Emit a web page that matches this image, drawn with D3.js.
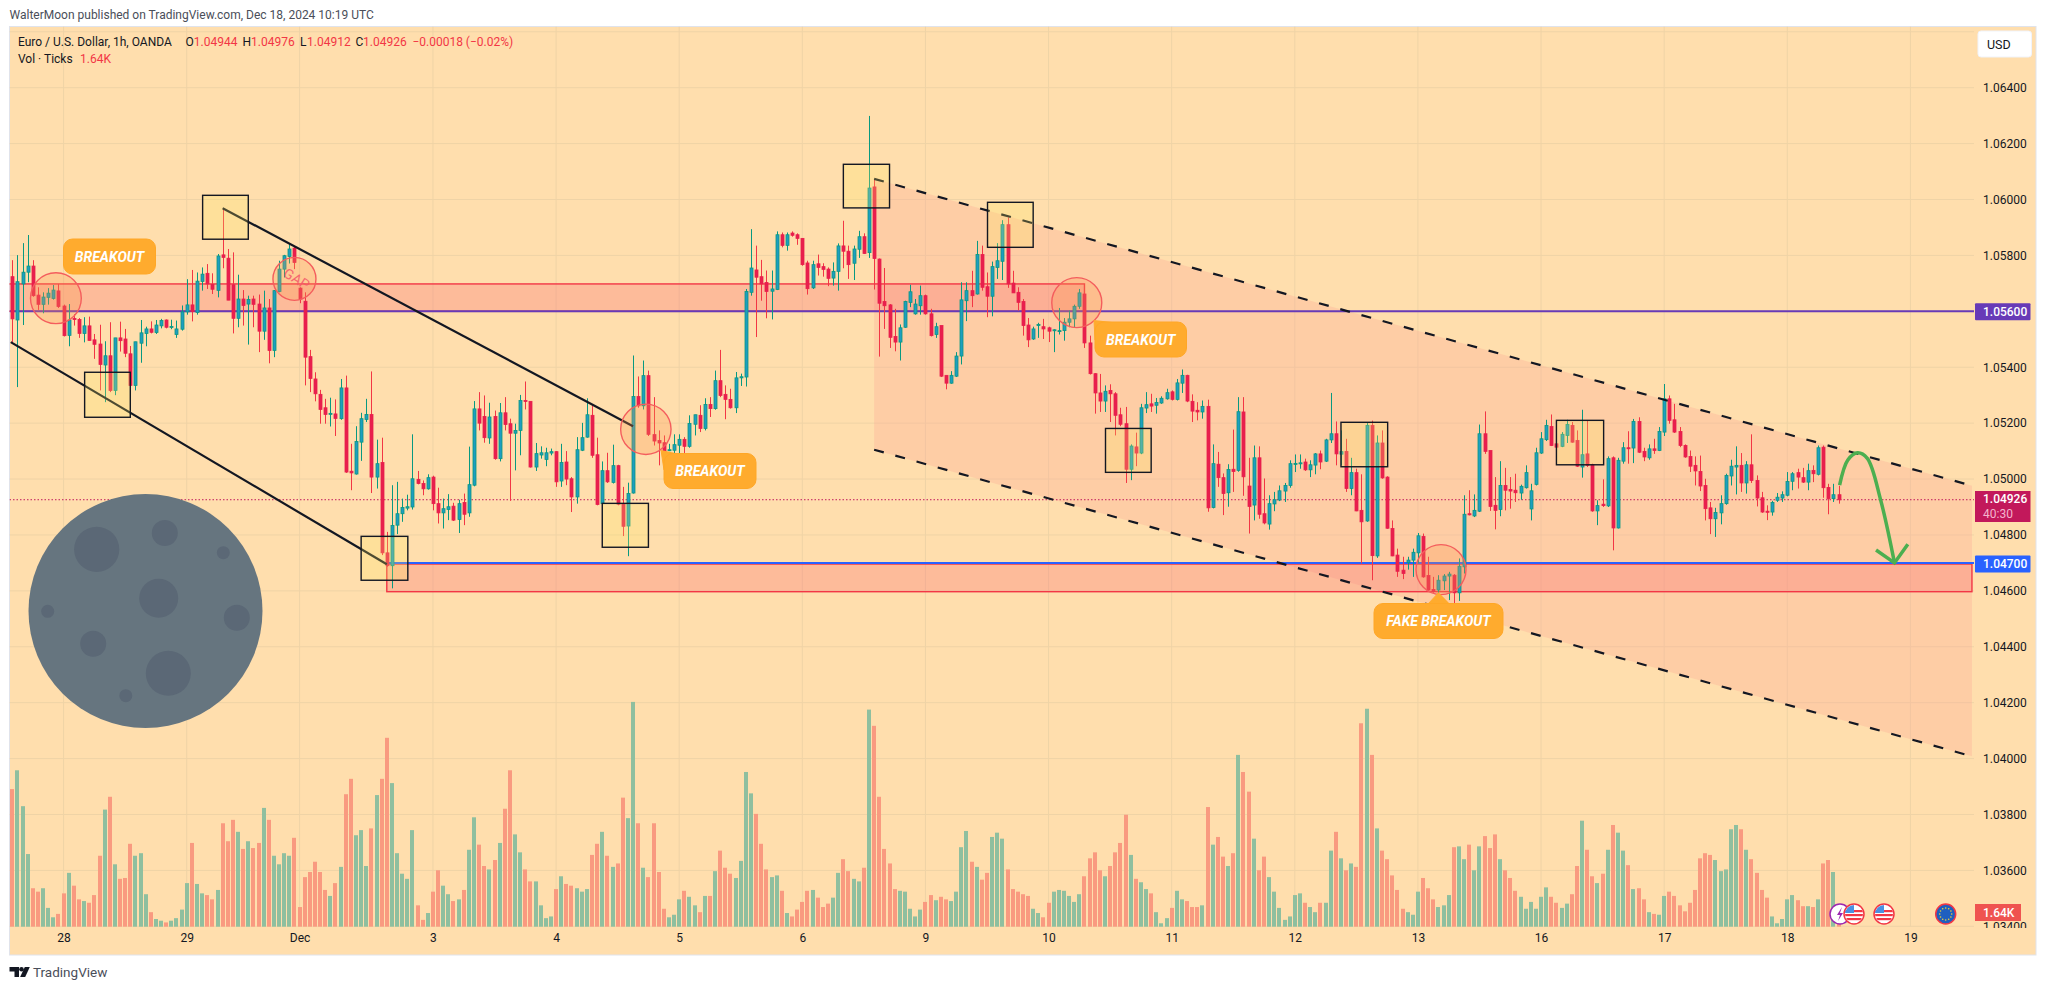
<!DOCTYPE html>
<html>
<head>
<meta charset="utf-8">
<title>EUR/USD 1h</title>
<script src="https://cdn.jsdelivr.net/npm/d3@7"></script>
<style>
  html, body { margin: 0; padding: 0; background: #fff; }
  svg { display: block; }
  text { font-family: Roboto, "Liberation Sans", sans-serif; }
</style>
</head>
<body>
<div id="chart"></div>
<script>
// Candles, in points above 1.00000 (5600 = 1.05600)
const opens = [
  5724,5569,5698,5740,5762,5658,5625,5650,5646,5673,
  5619,5514,5574,5571,5521,5548,5498,5483,5408,5441,
  5317,5505,5501,5448,5335,5486,5521,5537,5524,5548,
  5569,5544,5517,5536,5598,5623,5596,5707,5736,5696,
  5675,5802,5790,5695,5575,5644,5626,5644,5626,5529,
  5612,5460,5671,5751,5796,5826,5683,5636,5438,5358,
  5303,5255,5232,5233,5216,5326,5028,5018,5132,5213,
  5231,5007,5059,4736,4690,4835,4876,4896,4900,4999,
  4984,4965,5007,4912,4879,4891,4903,4855,4916,4879,
  4978,5251,5224,5147,5224,5073,5237,5198,5164,5174,
  5281,5278,5043,5086,5070,5093,5098,4993,5061,5001,
  4936,5103,5150,5228,5087,4912,5030,4988,5048,4912,
  4832,4950,5295,5262,5370,5159,5138,5130,5103,5103,
  5121,5142,5117,5196,5228,5181,5267,5252,5352,5303,
  5285,5255,5362,5365,5668,5748,5724,5703,5672,5678,
  5874,5836,5880,5874,5861,5773,5684,5770,5760,5751,
  5719,5743,5834,5815,5772,5822,5867,5810,6045,5787,
  5635,5623,5510,5490,5543,5632,5591,5620,5656,5591,
  5517,5549,5371,5343,5368,5440,5638,5674,5662,5803,
  5688,5654,5757,5779,5910,5701,5668,5635,5551,5501,
  5549,5545,5541,5531,5529,5531,5561,5573,5618,5662,
  5487,5377,5308,5279,5317,5305,5230,5198,5035,5115,
  5093,5254,5269,5264,5272,5287,5312,5285,5343,5371,
  5278,5246,5240,5260,4898,5053,5005,4951,5035,5031,
  5240,4975,4907,5076,4876,4839,4911,4925,4957,4977,
  5053,5056,5061,5033,5050,5090,5064,5140,5162,5089,
  5099,4966,5023,4888,4850,5192,4725,5129,5007,4823,
  4728,4674,4701,4710,4736,4795,4655,4605,4603,4636,
  4653,4656,4593,4686,4876,4868,4885,5162,5102,4906,
  4891,4977,4963,4960,4950,4969,4893,4981,5093,5141,
  5188,5126,5117,5156,5192,5138,5043,5090,5051,4886,
  4910,4904,5076,4825,5064,5112,5111,5206,5099,5076,
  5108,5102,5168,5287,5212,5170,5120,5081,5049,5027,
  4977,4897,4858,4879,4912,5011,5043,5049,4986,5051,
  4995,4933,4885,4882,4924,4932,4942,4992,5023,5005,
  4989,5031,5017,5114,4970,4930,4944
];
const highs = [
  5783,5801,5844,5873,5783,5686,5668,5683,5694,5698,
  5624,5626,5590,5576,5579,5581,5519,5552,5493,5561,
  5505,5563,5537,5476,5491,5569,5545,5564,5569,5573,
  5571,5570,5567,5621,5715,5748,5739,5757,5769,5736,
  5805,5969,5823,5811,5731,5676,5656,5656,5660,5674,
  5644,5676,5781,5802,5840,5834,5686,5668,5462,5382,
  5319,5287,5291,5285,5358,5370,5126,5189,5237,5287,
  5385,5141,5148,4811,4978,4990,4930,4944,5160,5029,
  4995,5017,5012,4969,4930,4946,4915,4926,4948,5116,
  5279,5311,5299,5273,5245,5272,5293,5216,5198,5301,
  5349,5278,5129,5117,5112,5109,5100,5126,5100,5007,
  5150,5201,5289,5263,5148,5063,5094,5123,5051,4972,
  4987,5442,5367,5424,5388,5293,5174,5156,5126,5160,
  5160,5150,5228,5230,5264,5289,5293,5388,5462,5335,
  5323,5383,5377,5680,5894,5835,5784,5746,5746,5886,
  5882,5882,5886,5879,5862,5781,5781,5803,5772,5757,
  5775,5843,5924,5835,5835,5888,5879,6299,6071,5789,
  5755,5626,5609,5553,5638,5695,5644,5692,5660,5609,
  5559,5549,5371,5386,5454,5704,5704,5745,5852,5835,
  5739,5778,5844,5926,5936,5745,5686,5644,5576,5545,
  5559,5573,5545,5536,5612,5576,5603,5624,5680,5668,
  5513,5379,5376,5335,5339,5311,5255,5258,5124,5166,
  5269,5311,5305,5290,5296,5323,5317,5358,5392,5373,
  5303,5275,5281,5284,5124,5097,5020,5053,5177,5293,
  5293,5076,5120,5117,5002,4942,4954,4977,4986,5067,
  5088,5088,5073,5067,5093,5102,5144,5308,5206,5174,
  5144,5076,5037,5017,5204,5209,5156,5174,5010,4852,
  4751,4722,4722,4751,4807,4805,4722,4650,4656,4660,
  4668,4660,4716,4942,4960,4945,5195,5242,5102,5007,
  5064,5040,5007,5019,4980,5049,4983,5112,5168,5212,
  5231,5156,5168,5212,5204,5174,5248,5209,5055,4924,
  4999,5081,5081,5076,5132,5171,5215,5221,5112,5124,
  5144,5186,5340,5299,5269,5186,5124,5102,5081,5084,
  5001,4918,4897,4942,5019,5069,5117,5093,5064,5160,
  5013,4954,4906,4922,4950,4956,5025,5025,5037,5040,
  5055,5049,5120,5120,4983,4983,4976
];
const lows = [
  5487,5329,5551,5704,5652,5605,5593,5624,5642,5612,
  5510,5475,5549,5505,5489,5495,5430,5317,5275,5311,
  5300,5456,5436,5305,5317,5416,5475,5521,5519,5539,
  5539,5536,5505,5531,5588,5564,5588,5674,5680,5662,
  5650,5754,5640,5521,5543,5549,5481,5543,5454,5498,
  5414,5436,5668,5721,5771,5751,5629,5335,5311,5278,
  5198,5198,5188,5154,5212,5022,4960,5016,5065,5204,
  4950,4966,4728,4686,4609,4803,4847,4888,4891,4981,
  4942,4962,4888,4841,4823,4853,4850,4807,4835,4865,
  4974,5174,5130,5126,5069,5063,5174,4922,5031,5085,
  5249,5041,5029,5073,5046,5085,4972,4972,4978,4882,
  4912,5100,5148,5076,4906,4823,4986,4984,4906,4796,
  4724,4948,5255,5249,5154,5120,5049,5076,5100,5088,
  5081,5091,5112,5156,5168,5174,5222,5248,5293,5214,
  5252,5236,5333,5331,5656,5508,5638,5575,5571,5676,
  5829,5817,5867,5838,5763,5660,5680,5728,5724,5690,
  5692,5674,5754,5716,5712,5791,5805,5791,5678,5438,
  5537,5469,5457,5424,5541,5615,5588,5588,5588,5510,
  5505,5365,5321,5341,5365,5410,5565,5615,5660,5674,
  5579,5582,5716,5712,5684,5666,5603,5513,5472,5498,
  5505,5501,5490,5454,5517,5495,5543,5541,5609,5469,
  5374,5234,5240,5240,5204,5156,5189,4986,4996,5046,
  5089,5236,5240,5234,5269,5284,5281,5281,5308,5275,
  5204,5210,5216,4883,4895,4972,4871,4901,4954,5026,
  4940,4805,4852,4858,4838,4819,4885,4921,4918,4969,
  5025,5037,5029,5007,5017,5035,5061,5129,5049,5049,
  4954,4942,4885,4698,4847,4638,4718,5001,4822,4724,
  4650,4642,4676,4650,4698,4647,4600,4593,4561,4603,
  4567,4529,4564,4662,4870,4864,4882,5090,4886,4820,
  4867,4888,4894,4918,4926,4966,4852,4977,5090,5136,
  5118,5096,5114,5129,5130,5043,5005,5043,4883,4835,
  4900,4900,4745,4823,5055,5055,5057,5093,5064,5069,
  5090,5100,5154,5198,5165,5114,5076,5025,4977,4957,
  4852,4803,4793,4838,4908,4977,4945,4954,4948,4986,
  4902,4879,4853,4869,4918,4918,4938,4960,4966,4986,
  4960,4989,5013,4933,4874,4918,4912
];
const closes = [
  5573,5706,5740,5762,5656,5625,5651,5665,5676,5617,
  5513,5569,5571,5521,5548,5496,5482,5410,5441,5317,
  5505,5495,5450,5335,5491,5523,5537,5525,5551,5567,
  5543,5546,5537,5598,5623,5599,5708,5733,5698,5679,
  5798,5793,5640,5575,5644,5621,5642,5625,5529,5612,
  5460,5674,5751,5799,5823,5775,5644,5436,5360,5305,
  5249,5231,5235,5217,5326,5025,5022,5134,5216,5231,
  5007,5055,4736,4690,4834,4876,4898,4901,5001,4984,
  4965,5005,4912,4879,4894,4901,4853,4912,4874,4980,
  5251,5200,5148,5222,5073,5237,5195,5164,5174,5281,
  5279,5043,5091,5094,5094,5098,4990,5059,5000,4936,
  5105,5148,5230,5085,4909,5030,4990,5048,4910,4831,
  4948,5295,5262,5370,5160,5136,5129,5097,5105,5123,
  5142,5117,5199,5230,5181,5267,5252,5352,5299,5285,
  5255,5362,5366,5671,5755,5722,5698,5671,5680,5874,
  5836,5874,5872,5861,5767,5681,5767,5757,5750,5718,
  5743,5834,5815,5767,5823,5867,5807,6041,5789,5629,
  5620,5507,5490,5541,5635,5670,5626,5656,5591,5513,
  5545,5368,5343,5371,5440,5641,5674,5656,5803,5686,
  5654,5760,5781,5910,5698,5666,5632,5549,5498,5537,
  5553,5537,5529,5534,5531,5561,5573,5618,5666,5487,
  5377,5308,5279,5314,5305,5228,5196,5035,5118,5093,
  5255,5266,5261,5274,5289,5309,5285,5344,5371,5279,
  5243,5240,5260,4897,5055,5005,4948,5034,5027,5241,
  5008,4902,5076,4874,4843,4912,4926,4958,4977,5055,
  5056,5058,5033,5051,5090,5061,5140,5162,5090,5098,
  4966,5023,4886,4847,5192,4726,5129,5004,4824,4725,
  4670,4662,4710,4738,4797,4650,4603,4598,4638,4653,
  4660,4593,4688,4874,4872,4888,5162,5099,4902,4888,
  4977,4960,4957,4951,4974,5023,4958,5094,5144,5192,
  5120,5114,5160,5195,5132,5046,5087,5049,4886,4905,
  4905,5073,4825,5067,5112,5110,5206,5096,5079,5108,
  5102,5170,5287,5210,5168,5120,5079,5046,5029,4975,
  4894,4858,4880,4912,5013,5046,5049,4986,5051,4995,
  4932,4882,4881,4916,4935,4944,4991,5019,5007,4989,
  5030,5019,5112,4969,4930,4944,4926
];
// Volume in thousand ticks
const volumes = [
  16.1,18.3,14.1,8.5,4.5,4.1,4.5,2.2,1.1,1.5,
  3.9,6.3,4.8,3.2,3.0,2.8,3.7,8.3,13.7,15.2,
  7.3,5.6,5.7,9.7,8.3,8.6,3.8,1.7,0.9,0.7,
  0.5,0.7,1.0,2.0,5.1,9.8,5.0,3.9,3.7,3.2,
  4.3,12.1,10.0,12.5,11.1,9.1,10.0,9.2,9.8,13.9,
  12.5,8.3,7.3,8.6,8.3,10.4,2.3,5.8,6.4,7.6,
  6.4,4.3,3.6,5.1,7.0,15.5,17.3,10.7,11.3,7.1,
  11.5,15.4,17.3,22.1,16.8,8.6,6.2,5.6,11.3,2.5,
  0.8,1.6,4.1,6.6,4.8,3.8,3.0,3.2,4.3,9.0,
  12.8,9.6,7.1,6.7,7.8,9.8,13.8,18.3,10.8,8.7,
  6.7,5.3,5.3,2.5,1.0,1.2,4.4,5.9,5.0,4.8,
  4.5,4.1,4.4,8.4,9.7,11.1,8.3,7.0,7.4,15.1,
  12.7,26.3,12.1,6.9,5.8,12.1,6.4,2.1,1.1,1.4,
  3.2,4.2,3.5,2.5,1.7,3.6,3.6,6.5,8.9,6.9,
  6.2,5.7,7.7,18.1,15.6,13.2,9.7,6.7,5.8,6.0,
  4.2,1.6,1.2,2.0,2.9,4.2,4.3,3.4,2.3,2.7,
  3.4,6.3,7.9,6.5,5.6,5.3,6.9,25.4,23.5,15.2,
  9.1,7.4,4.4,4.2,4.1,2.1,1.2,2.0,2.9,3.7,
  3.1,3.5,3.2,3.0,4.1,9.3,11.2,7.6,7.0,5.5,
  6.3,10.5,11.0,10.3,6.7,4.4,4.1,3.8,3.6,2.1,
  1.6,1.1,2.8,4.1,4.3,4.2,3.6,2.9,3.8,5.9,
  8.0,8.7,6.6,5.9,7.1,8.7,9.8,13.1,8.4,5.6,
  5.2,4.4,3.9,1.7,0.4,1.0,2.2,4.2,3.2,3.0,
  2.3,2.3,2.5,14.0,9.6,10.5,8.2,7.1,8.6,20.1,
  18.1,15.8,10.3,6.6,8.2,5.8,4.1,2.2,0.8,1.2,
  3.7,3.9,2.8,2.3,1.7,2.8,2.8,8.9,11.1,8.0,
  6.6,7.4,7.0,23.8,25.5,20.1,11.5,8.9,7.9,6.0,
  4.3,2.1,1.7,1.4,4.1,5.7,4.5,3.2,2.3,2.5,
  3.7,9.3,9.4,7.9,9.6,6.6,9.4,10.6,9.2,10.8,
  7.9,6.6,5.7,4.2,3.5,2.1,2.9,2.1,3.5,4.6,
  3.5,2.8,2.2,2.7,3.8,7.1,12.4,9.0,5.9,5.1,
  6.2,9.0,11.9,11.0,8.9,7.2,4.4,4.5,3.2,1.7,
  1.5,1.4,3.6,4.1,3.6,2.5,1.8,2.8,4.3,8.0,
  8.6,8.4,7.8,6.5,6.7,11.4,11.9,11.4,9.0,7.9,
  6.3,4.3,3.4,1.2,0.4,0.9,3.2,3.7,3.1,2.4,
  2.4,2.3,3.2,7.4,7.8,6.4,1.64
];
// Axis labels
const priceTicks = [1.034,1.036,1.038,1.04,1.042,1.044,1.046,1.048,1.05,1.052,1.054,1.058,1.06,1.062,1.064];
const gridPrices = [1.034,1.036,1.038,1.04,1.042,1.044,1.046,1.048,1.05,1.052,1.054,1.056,1.058,1.06,1.062,1.064,1.066];
const dayLabels = ["28","29","Dec","3","4","5","6","9","10","11","12","13","16","17","18","19"];
const dayBars = [10,34,56,82,106,130,154,178,202,226,250,274,298,322,346,370];

// Levels and drawings, as bar index + price
const levels = { resistance: 1.056, support: 1.047, last: 1.04926 };
const upperZone = { from: -1, to: 209.0, top: 1.05698, bottom: 1.056 };
const lowerZone = { from: 73, to: 382, top: 1.04696, bottom: 1.04597 };
const channelTop = [[168, 1.06074], [382, 1.04976]];
const channelBottom = [[168, 1.05105], [382, 1.04008]];
const solidTop = [[41, 1.05969], [121, 1.05189]];
const solidBottom = [[-0.3, 1.0549], [73, 1.04695]];
const boxes = [
  [37.1, 46.0, 1.06015, 1.05858], [14.1, 23.0, 1.05382, 1.05221], [68.0, 77.1, 1.04795, 1.04638],
  [115.0, 124.0, 1.04913, 1.04756], [162.0, 171.0, 1.06126, 1.0597], [190.1, 199.0, 1.0599, 1.05829],
  [213.1, 222.0, 1.05181, 1.05024], [259.0, 268.1, 1.05203, 1.05044], [301.0, 310.2, 1.0521, 1.05051]
];
const circles = [[8.5, 1.05647, 25.4], [55.0, 1.05716, 21.5], [123.5, 1.05178, 25.2], [207.5, 1.05631, 25], [278.5, 1.04676, 25]];
const arrowPath = [[356.2, 1.04978], [357.8, 1.05068], [359.7, 1.05094], [361.6, 1.05074], [364.2, 1.04925], [366.9, 1.047]];
const arrowHead = [[363.3, 1.04746], [366.9, 1.047], [369.5, 1.04767]];

const width = 2046, height = 990;
const pane = { left: 9.5, right: 2036, top: 26.5, bottom: 955, plotRight: 1974, volBase: 926.7 };
const colors = {
  bg: "#ffdead", grid: "#efd3a6", up: "#089981", upFill: "#1f9cc0", down: "#f23645", downFill: "#e81f4d",
  volUp: "#8fbf9f", volDown: "#f99a80", line: "#131722", purple: "#673ab7", blue: "#2962ff",
  lastLabel: "#c2185b", orange: "#ffab2e"
};

const toPrice = p => 1 + p / 100000;

// Scales
const x = d3.scaleLinear().domain([0, 1]).range([12.3, 17.43]);
const y = d3.scaleLinear().domain([1.034, 1.064]).range([926.3, 87.7]);
const v = d3.scaleLinear().domain([0, 26.3]).range([pane.volBase, 701.9]);

const bars = closes.map((c, i) => ({ i, o: toPrice(opens[i]), h: toPrice(highs[i]), l: toPrice(lows[i]), c: toPrice(c), vol: volumes[i] }));

const svg = d3.select("#chart").append("svg").attr("width", width).attr("height", height);
const defs = svg.append("defs");
defs.append("clipPath").attr("id", "plot").append("rect")
  .attr("x", pane.left).attr("y", pane.top).attr("width", pane.plotRight - pane.left).attr("height", pane.bottom - pane.top);
defs.append("clipPath").attr("id", "priceClip").append("rect")
  .attr("x", pane.plotRight).attr("y", pane.top).attr("width", 70).attr("height", 928 - pane.top);

// Header
svg.append("text").attr("x", 9.5).attr("y", 19).attr("font-size", 12).attr("fill", "#4a4e59")
  .text("WalterMoon published on TradingView.com, Dec 18, 2024 10:19 UTC");

// Pane
svg.append("rect").attr("x", pane.left).attr("y", pane.top).attr("width", pane.right - pane.left).attr("height", pane.bottom - pane.top)
  .attr("fill", colors.bg).attr("stroke", "#e0e3eb");

const plot = svg.append("g").attr("clip-path", "url(#plot)");

// Grid
plot.selectAll(".hgrid").data(gridPrices).enter().append("line")
  .attr("x1", pane.left).attr("x2", pane.plotRight).attr("y1", d => y(d)).attr("y2", d => y(d)).attr("stroke", colors.grid);
plot.selectAll(".vgrid").data(dayBars).enter().append("line")
  .attr("x1", d => x(d)).attr("x2", d => x(d)).attr("y1", pane.top).attr("y2", pane.volBase).attr("stroke", colors.grid);

// Channel area and zones sit under the candles
const zoneRect = z => plot.append("rect")
  .attr("x", x(z.from)).attr("width", x(z.to) - x(z.from))
  .attr("y", y(z.top)).attr("height", y(z.bottom) - y(z.top))
  .attr("fill", "rgba(248,105,113,0.3)").attr("stroke", colors.down).attr("stroke-width", 1.4);

plot.append("path")
  .attr("d", d3.line()([channelTop[0], channelTop[1], channelBottom[1], channelBottom[0]].map(p => [x(p[0]), y(p[1])])) + "Z")
  .attr("fill", "rgba(252,165,150,0.3)");

// Volume
plot.selectAll(".vol").data(bars).enter().append("rect")
  .attr("x", d => Math.round(x(d.i)) - 2).attr("width", 4)
  .attr("y", d => v(d.vol)).attr("height", d => pane.volBase - v(d.vol))
  .attr("fill", d => d.c >= d.o ? colors.volUp : colors.volDown);

zoneRect(upperZone);
zoneRect(lowerZone);

// Levels
plot.append("line").attr("x1", pane.left).attr("x2", pane.plotRight).attr("y1", y(levels.resistance)).attr("y2", y(levels.resistance))
  .attr("stroke", colors.purple).attr("stroke-width", 2);
plot.append("line").attr("x1", x(lowerZone.from)).attr("x2", pane.plotRight).attr("y1", y(levels.support)).attr("y2", y(levels.support))
  .attr("stroke", colors.blue).attr("stroke-width", 2);
plot.append("line").attr("x1", pane.left).attr("x2", pane.plotRight).attr("y1", y(levels.last)).attr("y2", y(levels.last))
  .attr("stroke", colors.lastLabel).attr("stroke-dasharray", "1.5 2");

// Candles
const candle = plot.selectAll(".candle").data(bars).enter().append("g");
candle.append("line")
  .attr("x1", d => Math.round(x(d.i)) + 0.5).attr("x2", d => Math.round(x(d.i)) + 0.5)
  .attr("y1", d => y(d.h)).attr("y2", d => y(d.l))
  .attr("stroke", d => d.c >= d.o ? colors.up : colors.down);
candle.append("rect")
  .attr("x", d => Math.round(x(d.i)) - 1).attr("width", 3)
  .attr("y", d => y(Math.max(d.o, d.c)))
  .attr("height", d => Math.max(1, Math.abs(y(d.o) - y(d.c))))
  .attr("fill", d => d.c >= d.o ? colors.upFill : colors.downFill)
  .attr("stroke", d => d.c >= d.o ? colors.up : colors.downFill).attr("stroke-width", 0.8);

// Trend lines
const trend = (pts, dash) => plot.append("line")
  .attr("x1", x(pts[0][0])).attr("y1", y(pts[0][1])).attr("x2", x(pts[1][0])).attr("y2", y(pts[1][1]))
  .attr("stroke", colors.line).attr("stroke-width", 2.2).attr("stroke-dasharray", dash);
trend(solidTop, null);
trend(solidBottom, null);
trend(channelTop, "10 12");
trend(channelBottom, "10 12");

// Boxes on the swing points
plot.selectAll(".box").data(boxes).enter().append("rect")
  .attr("x", d => x(d[0])).attr("width", d => x(d[1]) - x(d[0]))
  .attr("y", d => y(d[2])).attr("height", d => y(d[3]) - y(d[2]))
  .attr("fill", "rgba(250,230,100,0.25)").attr("stroke", colors.line).attr("stroke-width", 1.4);

// Circles
plot.selectAll(".ring").data(circles).enter().append("circle")
  .attr("cx", d => x(d[0])).attr("cy", d => y(d[1])).attr("r", d => d[2])
  .attr("fill", "rgba(250,150,80,0.28)").attr("stroke", "#f45d5d").attr("stroke-width", 1.4);

// Callouts
function callout(label, x0, y0, w, h, tip, base) {
  if (tip) plot.append("path").attr("d", d3.line()([tip, base[0], base[1]])).attr("fill", colors.orange).attr("stroke", colors.orange);
  plot.append("rect").attr("x", x0).attr("y", y0).attr("width", w).attr("height", h).attr("rx", 9)
    .attr("fill", colors.orange).attr("stroke", "#ffa726");
  plot.append("text").attr("x", x0 + w / 2).attr("y", y0 + h / 2 + 5).attr("text-anchor", "middle")
    .attr("font-family", "Liberation Sans").attr("font-style", "italic").attr("font-weight", 700).attr("font-size", 14).attr("fill", "#fff")
    .text(label);
}
callout("BREAKOUT", 63.5, 239, 92, 35);
callout("BREAKOUT", 664, 453.5, 92, 35, [661, 450], [[664, 470], [680, 454]]);
callout("BREAKOUT", 1095, 322, 91.5, 35, [1094, 320], [[1095, 340], [1112, 322]]);
callout("FAKE BREAKOUT", 1374, 603.5, 129, 35, [1438.7, 592.5], [[1428, 604], [1450, 604]]);

// GAP note
plot.append("text").attr("transform", "translate(294,283) rotate(32)").attr("text-anchor", "middle")
  .attr("font-size", 14).attr("fill", "#f4566a").attr("opacity", 0.85).text("GAP");

// Green projection arrow
const arrow = d3.line().curve(d3.curveCatmullRom).x(d => x(d[0])).y(d => y(d[1]));
plot.append("path").attr("d", arrow(arrowPath)).attr("fill", "none").attr("stroke", "#4caf50").attr("stroke-width", 3.5);
plot.append("path").attr("d", d3.line().x(d => x(d[0])).y(d => y(d[1]))(arrowHead)).attr("fill", "none").attr("stroke", "#4caf50").attr("stroke-width", 3.5);

// Moon
const moon = svg.append("g");
moon.append("circle").attr("cx", 145.5).attr("cy", 611).attr("r", 117).attr("fill", "#66757f");
moon.selectAll(".crater").data([
  [96.7, 549.3, 22.6], [164.8, 533, 13], [223.3, 552.7, 6.5], [158.7, 598.3, 19.5], [47.7, 611.3, 6.5],
  [236.8, 617.7, 13], [93.2, 643.7, 13], [168.3, 673.3, 22.5], [125.8, 695.7, 6.5]
]).enter().append("circle").attr("cx", d => d[0]).attr("cy", d => d[1]).attr("r", d => d[2]).attr("fill", "#5b6876");

// Price axis
const priceAxis = svg.append("g").attr("clip-path", "url(#priceClip)").append("g")
  .attr("transform", `translate(${pane.plotRight},0)`)
  .call(d3.axisRight(y).tickValues(priceTicks).tickFormat(d3.format(".5f")).tickSize(0).tickPadding(9));
priceAxis.select(".domain").remove();
priceAxis.selectAll("text").attr("font-size", 12).attr("font-family", "Roboto").attr("fill", "#131722");

// Time axis
const timeAxis = svg.append("g").attr("transform", `translate(0,${pane.volBase + 2})`)
  .call(d3.axisBottom(x).tickValues(dayBars).tickFormat((d, i) => dayLabels[i]).tickSize(0).tickPadding(5));
timeAxis.select(".domain").remove();
timeAxis.selectAll("text").attr("font-size", 12).attr("font-family", "Roboto").attr("fill", "#131722");

// Price labels
function priceLabel(label, yMid, h, fill, w) {
  svg.append("rect").attr("x", 1975).attr("y", yMid - h / 2).attr("width", w).attr("height", h).attr("fill", fill).attr("rx", 1);
  svg.append("text").attr("x", 1983).attr("y", yMid + 4.2).attr("font-size", 12).attr("font-weight", 500).attr("fill", "#fff").text(label);
}
priceLabel("1.05600", y(levels.resistance) + 0.5, 17, colors.purple, 55.5);
priceLabel("1.04700", y(levels.support) + 1, 17, colors.blue, 55.5);
svg.append("rect").attr("x", 1975).attr("y", 491).attr("width", 55.5).attr("height", 31).attr("fill", colors.lastLabel);
svg.append("text").attr("x", 1983).attr("y", 503).attr("font-size", 12).attr("font-weight", 500).attr("fill", "#fff").text("1.04926");
svg.append("text").attr("x", 1983).attr("y", 517.5).attr("font-size", 12).attr("fill", "#f4b4cd").text("40:30");
svg.append("rect").attr("x", 1975).attr("y", 904).attr("width", 46).attr("height", 17).attr("fill", "#ef5350");
svg.append("text").attr("x", 1983).attr("y", 917).attr("font-size", 12).attr("font-weight", 500).attr("fill", "#fff").text("1.64K");

// USD button
svg.append("rect").attr("x", 1978).attr("y", 31).attr("width", 53.5).attr("height", 26).attr("rx", 3).attr("fill", "#fff").attr("stroke", "#f0f3fa");
svg.append("text").attr("x", 1987).attr("y", 48.5).attr("font-size", 12.5).attr("fill", "#131722").text("USD");

// Legend
const legend = svg.append("g").attr("font-size", 12);
legend.append("text").attr("x", 18).attr("y", 46).attr("fill", "#131722").text("Euro / U.S. Dollar, 1h, OANDA");
[["O", 185.6, "1.04944", 193.8], ["H", 242.4, "1.04976", 251], ["L", 300, "1.04912", 307], ["C", 355.6, "1.04926", 363]].forEach(d => {
  legend.append("text").attr("x", d[1]).attr("y", 46).attr("fill", "#131722").text(d[0]);
  legend.append("text").attr("x", d[3]).attr("y", 46).attr("fill", colors.down).text(d[2]);
});
legend.append("text").attr("x", 412.4).attr("y", 46).attr("fill", colors.down).text("−0.00018 (−0.02%)");
legend.append("text").attr("x", 18).attr("y", 63).attr("fill", "#131722").text("Vol · Ticks");
legend.append("text").attr("x", 80).attr("y", 63).attr("fill", colors.down).text("1.64K");

// Event icons
const flagClip = (id, cx) => defs.append("clipPath").attr("id", id).append("circle").attr("cx", cx).attr("cy", 914).attr("r", 9);
const icons = svg.append("g");
icons.append("circle").attr("cx", 1840).attr("cy", 914).attr("r", 10).attr("fill", "#fff").attr("stroke", "#9c27b0").attr("stroke-width", 1.5);
icons.append("path").attr("d", "M1842 907l-5 8h3l-2 6 5-8h-3z").attr("fill", "#9c27b0");
[1854, 1884].forEach((cx, k) => {
  flagClip("us" + k, cx);
  const g = icons.append("g");
  g.append("circle").attr("cx", cx).attr("cy", 914).attr("r", 10).attr("fill", "#fff").attr("stroke", "#f23645").attr("stroke-width", 1.5);
  const f = g.append("g").attr("clip-path", `url(#us${k})`);
  d3.range(3).forEach(s => f.append("rect").attr("x", cx - 10).attr("y", 910 + s * 4).attr("width", 20).attr("height", 2.2).attr("fill", "#f23645"));
  f.append("rect").attr("x", cx - 10).attr("y", 905).attr("width", 10).attr("height", 8).attr("fill", "#4a90e2");
});
icons.append("circle").attr("cx", 1945.7).attr("cy", 914).attr("r", 10).attr("fill", "#1f5fbf").attr("stroke", "#f23645").attr("stroke-width", 1.5);
d3.range(12).forEach(s => icons.append("circle")
  .attr("cx", 1945.7 + 6 * Math.cos(s * Math.PI / 6)).attr("cy", 914 + 6 * Math.sin(s * Math.PI / 6)).attr("r", 0.8).attr("fill", "#f5d033"));

// TradingView mark
const logo = svg.append("g").attr("fill", "#131722");
logo.append("path").attr("d", "M9.5 967h9.5v10h-4.5v-5.5h-5z");
logo.append("circle").attr("cx", 21.5).attr("cy", 969.3).attr("r", 2.3);
logo.append("path").attr("d", "M24.8 967h5l-4.6 10h-5.1z");
svg.append("text").attr("x", 33).attr("y", 977).attr("font-size", 13.5).attr("fill", "#4a4e59").text("TradingView");
</script>
</body>
</html>
